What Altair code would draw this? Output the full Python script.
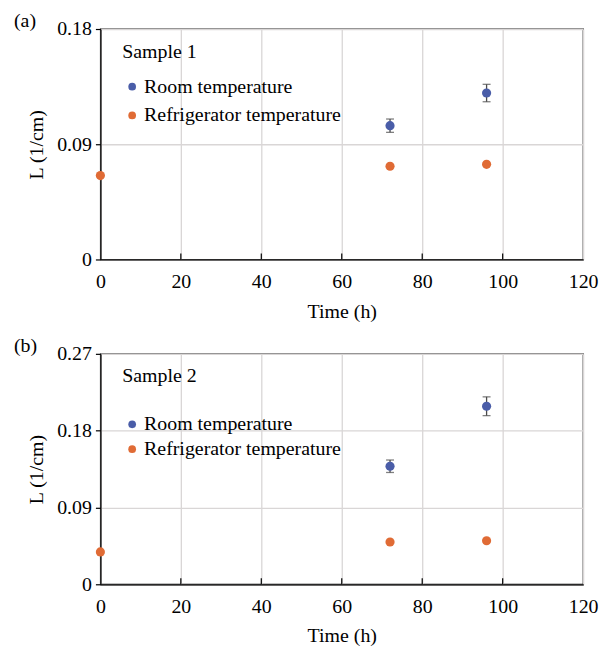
import altair as alt
import pandas as pd

# ---- data ----
series = ["Room temperature", "Refrigerator temperature"]
colors = ["#4A5DA8", "#E06B35"]

x_ticks = [0, 20, 40, 60, 80, 100, 120]
inner_x_ticks = [20, 40, 60, 80, 100]

# panel (a) – Sample 1
a_room_t = [72, 96]
a_room_L = [0.1045, 0.1300]
a_room_err = [0.0052, 0.0068]
a_ref_t = [0, 72, 96]
a_ref_L = [0.0655, 0.0728, 0.0743]
a_y_ticks = [0, 0.09, 0.18]

# panel (b) – Sample 2
b_room_t = [72, 96]
b_room_L = [0.1383, 0.2086]
b_room_err = [0.0073, 0.0110]
b_ref_t = [0, 72, 96]
b_ref_L = [0.0379, 0.0495, 0.0510]
b_y_ticks = [0, 0.09, 0.18, 0.27]

FONT = "Liberation Serif"
W, H = 486, 232


def panel(tag, sample, room_t, room_L, room_err, ref_t, ref_L, yticks,
          legY, rowPad, titlePad):
    rows = []
    for t, v, e in zip(room_t, room_L, room_err):
        rows.append({"series": series[0], "t": t, "L": v, "lo": v - e, "hi": v + e})
    for t, v in zip(ref_t, ref_L):
        rows.append({"series": series[1], "t": t, "L": v, "lo": v, "hi": v})
    df = pd.DataFrame(rows)
    err_df = df[df["series"] == series[0]]

    xs = alt.X("t:Q", scale=alt.Scale(domain=[0, 120], nice=False),
               axis=alt.Axis(values=x_ticks, title="Time (h)", tickSize=0,
                             labelPadding=12, titlePadding=10, format="d",
                             labelFlush=False))
    ys = alt.Y("L:Q", scale=alt.Scale(domain=[0, yticks[-1]], nice=False),
               axis=alt.Axis(values=yticks, title="L (1/cm)", tickSize=5,
                             labelPadding=4, titlePadding=10, format=".2~f",
                             labelFlush=False))

    errs = alt.Chart(err_df).mark_errorbar(
        ticks={"size": 8, "color": "#4A4A4A"}, color="#4A4A4A", thickness=1.3
    ).encode(x=alt.X("t:Q", title="Time (h)"),
             y=alt.Y("lo:Q", title="L (1/cm)"), y2="hi:Q")

    pts = alt.Chart(df).mark_circle(size=85, opacity=1).encode(
        x=xs, y=ys,
        color=alt.Color("series:N",
                        scale=alt.Scale(domain=series, range=colors),
                        legend=alt.Legend(
                            orient="none", legendX=22, legendY=legY,
                            title=sample, titleFont=FONT, titleFontSize=20,
                            titleFontWeight="normal", titleColor="black",
                            titlePadding=titlePad,
                            labelFont=FONT, labelFontSize=20, labelColor="black",
                            labelOffset=2, labelLimit=400,
                            symbolType="circle", symbolSize=60,
                            symbolStrokeWidth=0,
                            rowPadding=rowPad, padding=0)),
    )

    tick_df = pd.DataFrame({"t": inner_x_ticks})
    inner = alt.Chart(tick_df).mark_rule(color="black", strokeWidth=1.2).encode(
        x="t:Q", y=alt.value(H), y2=alt.value(H - 6))

    lab = alt.Chart(pd.DataFrame({"label": [tag]})).mark_text(
        align="left", baseline="middle", font=FONT, fontSize=20, color="black"
    ).encode(x=alt.value(-87), y=alt.value(-8), text="label:N")

    return alt.layer(errs, pts, inner, lab).properties(width=W, height=H)


pa = panel("(a)", "Sample 1", a_room_t, a_room_L, a_room_err, a_ref_t, a_ref_L,
           a_y_ticks, 13, 9, 15)
pb = panel("(b)", "Sample 2", b_room_t, b_room_L, b_room_err, b_ref_t, b_ref_L,
           b_y_ticks, 12, 5, 29)

chart = alt.vconcat(pa, pb, spacing=13).resolve_scale(
    color="independent", x="independent", y="independent"
).resolve_legend(color="independent").properties(
    padding={"left": 5, "top": 0, "right": 5, "bottom": 2}
).configure_view(
    stroke="black", strokeWidth=1.3
).configure_axis(
    labelFont=FONT, labelFontSize=20, labelColor="black",
    titleFont=FONT, titleFontSize=20, titleFontWeight="normal", titleColor="black",
    gridColor="#D9D6D6", gridWidth=1.3, domainColor="black", domainWidth=1.3,
    tickColor="black", tickWidth=1.2
)

chart.save("out.html", embed_options={"renderer": "svg", "actions": False})
